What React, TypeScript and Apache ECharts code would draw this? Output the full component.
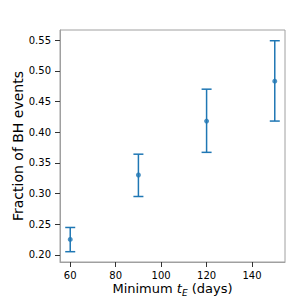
import React, { useEffect, useRef } from "react";
import * as echarts from "echarts";

const minTE = [60, 90, 120, 150];
const fraction = [0.225, 0.330, 0.418, 0.483];
const errLow = [0.205, 0.295, 0.367, 0.418];
const errHigh = [0.2445, 0.364, 0.470, 0.549];
const xTicks = [60, 80, 100, 120, 140];
const yTicks = [0.2, 0.25, 0.3, 0.35, 0.4, 0.45, 0.5, 0.55];

const COLOR = "#1f77b4";
const FONT = "DejaVu Sans";

export default function App() {
  const ref = useRef<HTMLDivElement>(null);
  useEffect(() => {
    if (!ref.current) return;
    const chart = echarts.init(ref.current, null, { renderer: "svg" });
    const errData = minTE.map((x, i) => [x, errLow[i], errHigh[i]]);
    chart.setOption({
      animation: false,
      backgroundColor: "#ffffff",
      grid: {
        left: 60,
        right: 15,
        top: 30,
        bottom: 38,
        outerBoundsMode: "none",
        containLabel: false,
        show: true,
        borderColor: "#a0a0a0",
        borderWidth: 1,
        backgroundColor: "transparent",
      },
      xAxis: {
        type: "value",
        min: 55.5,
        max: 154.5,
        splitLine: { show: false },
        axisLine: { show: true, lineStyle: { color: "#a0a0a0", width: 1 } },
        axisTick: {
          show: true,
          length: 5,
          inside: false,
          customValues: xTicks,
          lineStyle: { color: "#333333", width: 1 },
        },
        axisLabel: {
          customValues: xTicks,
          margin: 8,
          color: "#000",
          fontFamily: FONT,
          fontSize: 10,
          formatter: (v: number) => String(v),
        },
        name: "{a|Minimum }{i|t}{s|E}{a| (days)}",
        nameLocation: "middle",
        nameGap: 17,
        nameMoveOverlap: false,
        nameTextStyle: {
          rich: {
            a: { fontFamily: FONT, fontSize: 13, color: "#000", lineHeight: 18, verticalAlign: "middle" },
            i: { fontFamily: FONT, fontSize: 13, color: "#000", fontStyle: "italic", lineHeight: 18, verticalAlign: "middle" },
            s: { fontFamily: FONT, fontSize: 9, color: "#000", fontStyle: "italic", lineHeight: 18, verticalAlign: "bottom" },
          },
        },
      },
      yAxis: {
        type: "value",
        min: 0.1882,
        max: 0.5665,
        splitLine: { show: false },
        axisLine: { show: true, lineStyle: { color: "#a0a0a0", width: 1 } },
        axisTick: {
          show: true,
          length: 5,
          inside: false,
          customValues: yTicks,
          lineStyle: { color: "#333333", width: 1 },
        },
        axisLabel: {
          customValues: yTicks,
          margin: 9,
          color: "#000",
          fontFamily: FONT,
          fontSize: 10,
          formatter: (v: number) => v.toFixed(2),
        },
        name: "Fraction of BH events",
        nameLocation: "middle",
        nameGap: 35,
        nameMoveOverlap: false,
        nameTextStyle: { fontFamily: FONT, fontSize: 14, color: "#000" },
      },
      series: [
        {
          type: "custom",
          data: errData,
          renderItem: (params: any, api: any) => {
            const x = api.value(0);
            const top = api.coord([x, api.value(2)]);
            const bot = api.coord([x, api.value(1)]);
            const half = 5;
            const style = { stroke: COLOR, lineWidth: 1.5 };
            return {
              type: "group",
              children: [
                { type: "line", shape: { x1: top[0], y1: top[1], x2: bot[0], y2: bot[1] }, style },
                { type: "line", shape: { x1: top[0] - half, y1: top[1], x2: top[0] + half, y2: top[1] }, style },
                { type: "line", shape: { x1: bot[0] - half, y1: bot[1], x2: bot[0] + half, y2: bot[1] }, style },
              ],
            };
          },
          z: 2,
        },
        {
          type: "scatter",
          data: minTE.map((x, i) => [x, fraction[i]]),
          symbol: "circle",
          symbolSize: 5,
          itemStyle: { color: COLOR },
          z: 3,
        },
      ],
    });
    return () => chart.dispose();
  }, []);
  return <div ref={ref} style={{ width: 300, height: 300, position: "absolute", left: 0, top: 0 }} />;
}
